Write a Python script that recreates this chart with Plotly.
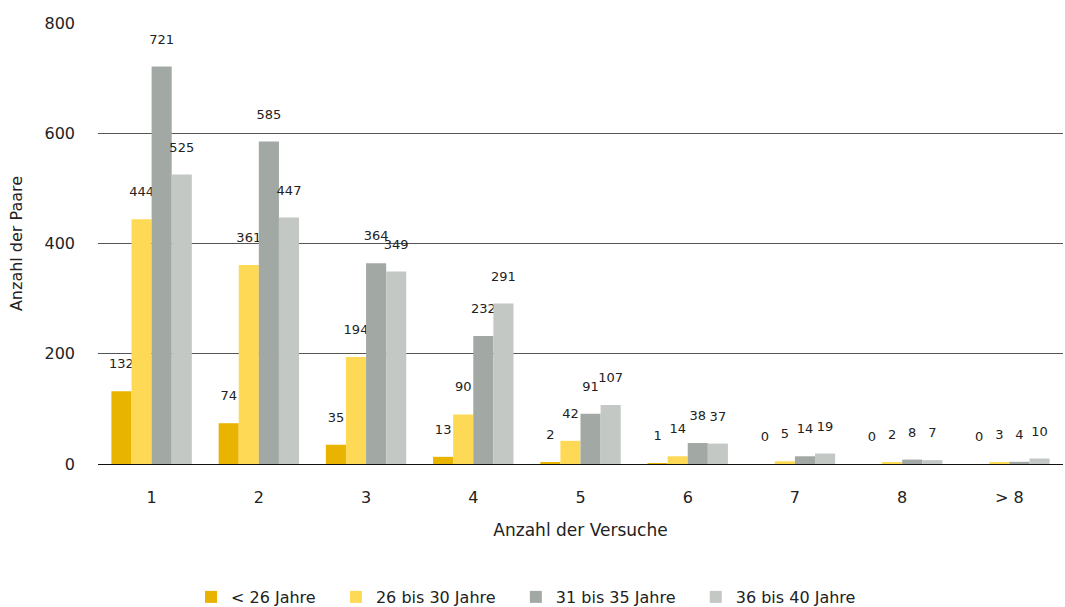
import plotly.graph_objects as go

categories = ["1", "2", "3", "4", "5", "6", "7", "8", "> 8"]
series_names = ["< 26 Jahre", "26 bis 30 Jahre", "31 bis 35 Jahre", "36 bis 40 Jahre"]
under_26 = [132, 74, 35, 13, 2, 1, 0, 0, 0]
age_26_30 = [444, 361, 194, 90, 42, 14, 5, 2, 3]
age_31_35 = [721, 585, 364, 232, 91, 38, 14, 8, 4]
age_36_40 = [525, 447, 349, 291, 107, 37, 19, 7, 10]
colors = ["#E8B400", "#FDD955", "#A2A9A4", "#C3C8C5"]

FONT = "DejaVu Sans"
PAD = "\u00a0\u00a0\u00a0"
fig = go.Figure()
for name, vals, col in zip(series_names, [under_26, age_26_30, age_31_35, age_36_40], colors):
    fig.add_trace(go.Bar(
        x=categories, y=vals, name=name + PAD,
        marker=dict(color=col, line=dict(width=0)),
        text=[str(v) for v in vals],
        texttemplate="%{text}<br> ",
        textposition="outside",
        constraintext="none",
        textfont=dict(family=FONT, size=13, color="#222"),
        cliponaxis=False,
    ))

fig.update_layout(
    width=1065, height=607,
    margin=dict(l=98, r=2, t=23, b=143),
    paper_bgcolor="white", plot_bgcolor="white",
    barmode="group", bargap=0.25, bargroupgap=0,
    font=dict(family=FONT, color="#222"),
    showlegend=True,
    legend=dict(orientation="h", xref="container", x=(204 - 13) / 1065, xanchor="left",
                yref="container", y=0.0165, yanchor="middle",
                font=dict(family=FONT, size=16, color="#222"), itemwidth=30,
                traceorder="normal"),
    xaxis=dict(
        title=dict(text="Anzahl der Versuche", font=dict(family=FONT, size=17), standoff=17),
        tickfont=dict(family=FONT, size=16), showgrid=False, showline=True,
        linecolor="#111", linewidth=1, ticks="", ticklabelstandoff=19,
    ),
    yaxis=dict(
        title=dict(text="Anzahl der Paare", font=dict(family=FONT, size=16), standoff=17),
        range=[0, 800], tickvals=[0, 200, 400, 600, 800],
        tickfont=dict(family=FONT, size=16), showgrid=True, gridcolor="#555",
        gridwidth=1, zeroline=True, zerolinecolor="#111", zerolinewidth=1,
        ticks="", ticklen=0, ticklabelstandoff=22,
    ),
)
fig.write_html("out.html")
